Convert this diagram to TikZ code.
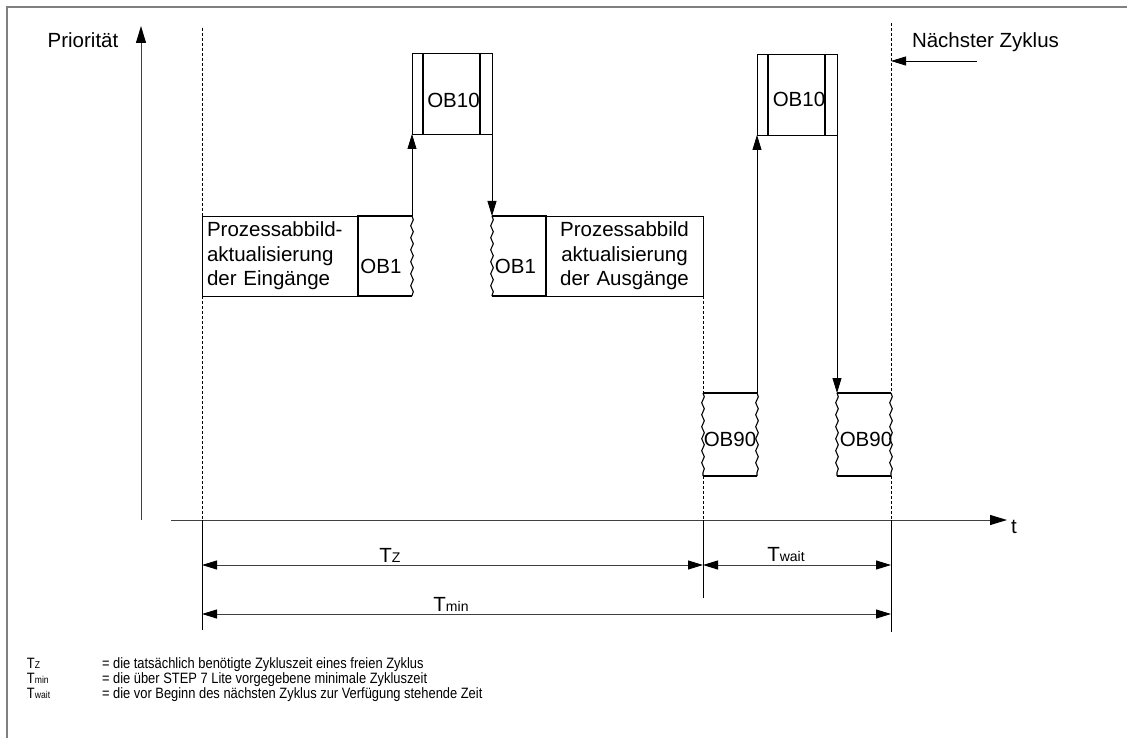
\documentclass[tikz,border=0pt]{standalone}
\usepackage{fontspec}
\setmainfont{Liberation Sans}
\newfontfamily\legfont{Liberation Sans}[FakeStretch=0.86]
\usepackage{tikz}
\usetikzlibrary{arrows.meta,positioning,decorations.pathmorphing}
\definecolor{ink}{HTML}{000000}
\definecolor{rim}{HTML}{808080}
\definecolor{axis}{HTML}{404040}
\tikzset{
  lbl/.style={font=\fontsize{20.5}{24.5}\selectfont, inner sep=0pt, outer sep=0pt},
  legend/.style={font=\legfont\fontsize{15}{15}\selectfont, inner sep=0pt, outer sep=0pt},
  pbox/.style={rectangle, draw=ink, line width=0.9pt, lbl, inner sep=5pt,
               minimum height=80pt, outer sep=0pt},
  obbox/.style={rectangle, inner sep=0pt, outer sep=0pt, minimum width=54pt,
                minimum height=80pt},
  procbox/.style={obbox, draw=ink, line width=0.9pt, minimum width=80pt, minimum height=81pt},
  obedge/.style={draw=ink, line width=1.4pt},
  procln/.style={draw=ink, line width=1.4pt},
  wavy/.style={draw=ink, line width=1.1pt, decorate,
               decoration={snake, amplitude=1.3pt, segment length=12pt}},
  tip/.style={-{Triangle[length=15pt,width=9pt,color=ink]}},
  fl/.style={tip, draw=ink, line width=0.8pt},
  ax/.style={-{Triangle[length=17pt,width=10pt,color=ink]}, draw=axis, line width=1pt},
  guide/.style={draw=ink, line width=0.6pt, dash pattern=on 3pt off 2pt},
  ext/.style={draw=ink, line width=0.8pt},
  dim/.style={{Triangle[length=15pt,width=9pt,color=ink]}-{Triangle[length=15pt,width=9pt,color=ink]},
              draw=axis, line width=1pt}
}
\newcommand{\Tsub}[1]{{\fontsize{14}{14}\selectfont #1}}
\newcommand{\Lsub}[1]{{\fontsize{10}{10}\selectfont #1}}

\begin{document}
\begin{tikzpicture}[x=1pt,y=-1pt]
  \useasboundingbox (0,0) rectangle (1127,738);
  \draw[rim, line width=2pt] (1127,7) -- (7,7) -- (7,738);

  % axes
  \coordinate (p0) at (141,520); \coordinate (p1) at (141,26);
  \coordinate (t0) at (171,520); \coordinate (t1) at (1007,520);
  \draw[ax] (p0) -- (p1);
  \draw[ax] (t0) -- (t1);
  \node[lbl, anchor=base] (prio) at (83,48) {Priorität};
  \node[lbl, anchor=base] (tlbl) at (1014,533) {t};

  % first cycle
  \node[pbox, anchor=north west, text width=146pt, align=left] (pein) at (202,216)
    {Prozessabbild-\\aktualisierung\\der Eingänge};
  \node[obbox, right=0pt of pein, label={[lbl, xshift=-4pt, yshift=-10pt]center:OB1}] (ob1a) {};
  \node[procbox, above right=82pt and 0pt of ob1a.north east,
        label={[lbl, xshift=1.5pt, yshift=-7pt]center:OB10}] (ob10a) {};
  \node[obbox, below right=82pt and 0pt of ob10a.south east,
        label={[lbl, xshift=-3.5pt, yshift=-10pt]center:OB1}] (ob1b) {};
  \node[pbox, right=0pt of ob1b, text width=147pt, align=center] (paus)
    {Prozessabbild\\aktualisierung\\der Ausgänge};

  % waiting
  \node[obbox, minimum height=83pt, below right=97pt and 0pt of paus.south east,
        label={[lbl, yshift=-4.5pt]center:OB90}] (ob90a) {};
  \node[procbox, minimum height=81pt, above right=258pt and 0pt of ob90a.north east,
        label={[lbl, xshift=2pt, yshift=-5pt]center:OB10}] (ob10b) {};
  \node[obbox, minimum height=83pt, below right=258pt and 0pt of ob10b.south east,
        label={[lbl, xshift=2pt, yshift=-4.5pt]center:OB90}] (ob90b) {};

  \draw[obedge] (ob1a.north east) -- (ob1a.north west) -- (ob1a.south west) -- (ob1a.south east);
  \draw[wavy] (ob1a.north east) -- (ob1a.south east);
  \draw[obedge] (ob1b.north west) -- (ob1b.north east) -- (ob1b.south east) -- (ob1b.south west);
  \draw[wavy] (ob1b.north west) -- (ob1b.south west);
  \foreach \n in {ob90a,ob90b} {
    \draw[obedge] (\n.north west) -- (\n.north east);
    \draw[obedge] (\n.south west) -- (\n.south east);
    \draw[wavy] (\n.north west) -- (\n.south west);
    \draw[wavy] (\n.north east) -- (\n.south east);
  }
  \foreach \n in {ob10a,ob10b} {
    \draw[procln] ([xshift=11pt]\n.north west) -- ([xshift=11pt]\n.south west);
    \draw[procln] ([xshift=-12pt]\n.north east) -- ([xshift=-12pt]\n.south east);
  }
  \foreach \a/\b in {ob1a.north east/ob10a.south west,ob10a.south east/ob1b.north west,
                     ob90a.north east/ob10b.south west,ob10b.south east/ob90b.north west}
    \draw[fl] (\a) -- (\b);

  % cycle limits
  \coordinate (z0) at (202,520); \coordinate (z1) at (703,520); \coordinate (z2) at (891,520);
  \draw[guide] (202,28) -- (pein.north west);
  \draw[guide] (pein.south west) -- (z0);
  \draw[guide] (paus.south east) -- (ob90a.north west);
  \draw[guide] (ob90a.south west) -- (z1);
  \draw[guide] (891,23) -- (ob90b.north east);
  \draw[guide] (ob90b.south east) -- (z2);
  \draw[ext] (z0) -- ++(0,110);
  \draw[ext] (z1) -- ++(0,78);
  \draw[ext] (z2) -- ++(0,112);

  \node[lbl, anchor=base west] (next) at (912,48) {Nächster Zyklus};
  \coordinate (nz) at (977,61);
  \draw[fl] (nz) -- (nz -| z2);

  % times
  \draw[dim] (202,565) -- (703,565);
  \draw[dim] (703,565) -- (891,565);
  \draw[dim] (202,614) -- (891,614);
  \node[lbl, anchor=base] (tz) at (390,562) {T\Tsub{Z}};
  \node[lbl, anchor=base] (tw) at (786,561) {T\Tsub{wait}};
  \node[lbl, anchor=base] (tm) at (451,611) {T\Tsub{min}};

  % legend
  \foreach \y/\s/\t in {668/Z/die tatsächlich benötigte Zykluszeit eines freien Zyklus,
                        683/min/die über STEP 7 Lite vorgegebene minimale Zykluszeit,
                        698/wait/die vor Beginn des nächsten Zyklus zur Verfügung stehende Zeit} {
    \node[legend, anchor=base west] (leg\s) at (27,\y) {T\Lsub{\s}};
    \node[legend, anchor=base west] (def\s) at (102,\y) {= \t};
  }
\end{tikzpicture}
\end{document}
